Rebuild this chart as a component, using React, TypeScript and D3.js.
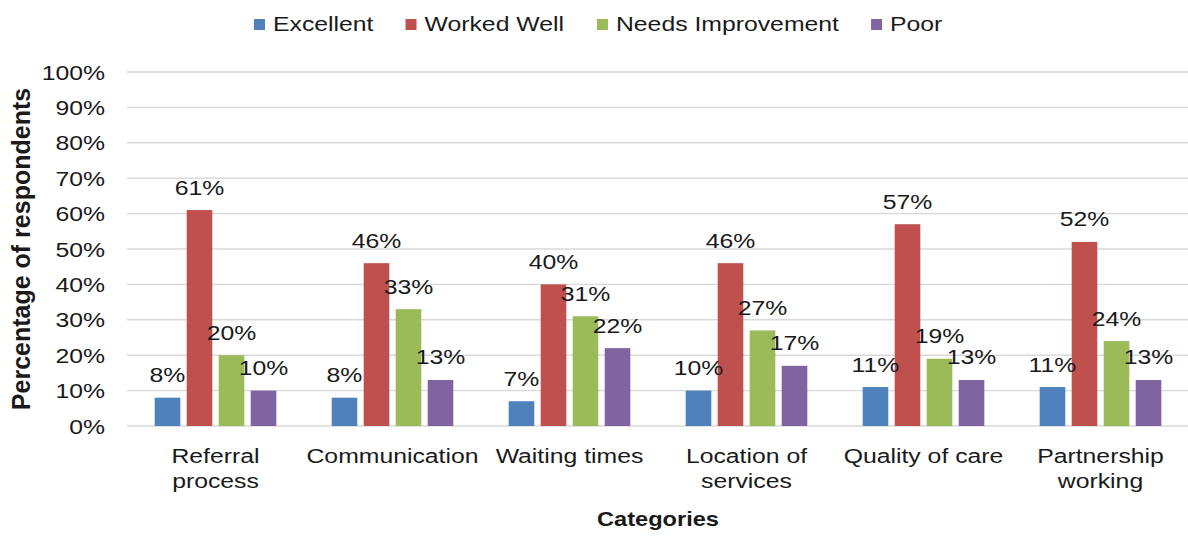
import React from "react";
import * as d3 from "d3";

const categories: string[][] = [
  ["Referral", "process"],
  ["Communication"],
  ["Waiting times"],
  ["Location of", "services"],
  ["Quality of care"],
  ["Partnership", "working"],
];
const seriesNames = ["Excellent", "Worked Well", "Needs Improvement", "Poor"];
const seriesColors = ["#4F81BD", "#C0504D", "#9BBB59", "#8064A2"];
const excellent = [8, 8, 7, 10, 11, 11];
const workedWell = [61, 46, 40, 46, 57, 52];
const needsImprovement = [20, 33, 31, 27, 19, 24];
const poor = [10, 13, 22, 17, 13, 13];
const yTicks = [0, 10, 20, 30, 40, 50, 60, 70, 80, 90, 100];

const W = 1188;
const H = 536;
const FONT = "'Liberation Sans', Arial, sans-serif";
const FS = 21;
const SX = 1.18; // horizontal stretch applied to text

const plot = { left: 127, right: 1189, top: 72, bottom: 426 };

// Text widths approximated from Arial advance widths (per 1000 em)
const ADV: Record<string, number> = {
  E: 667, x: 500, c: 500, e: 556, l: 222, n: 556, t: 278, W: 944, o: 556, r: 333,
  k: 500, d: 556, " ": 278, N: 722, s: 500, I: 278, m: 833, p: 556, v: 500, P: 667,
};
const textWidth = (s: string) =>
  s.split("").reduce((a, ch) => a + (ADV[ch] ?? 556), 0) / 1000 * FS * SX;

function T(props: {
  x: number; y: number; children: React.ReactNode; anchor?: string; bold?: boolean; size?: number;
}) {
  const { x, y, children, anchor = "start", bold = false, size = FS } = props;
  return (
    <text
      transform={`translate(${x},${y}) scale(${SX},1)`}
      textAnchor={anchor}
      fontFamily={FONT}
      fontSize={size}
      fontWeight={bold ? "bold" : "normal"}
      fill="#1a1a1a"
    >
      {children}
    </text>
  );
}

export default function App() {
  const series = [excellent, workedWell, needsImprovement, poor];
  const x0 = d3
    .scaleBand<number>()
    .domain(d3.range(categories.length))
    .range([plot.left, plot.right])
    .paddingInner(0)
    .paddingOuter(0);
  const x1 = d3
    .scaleBand<number>()
    .domain(d3.range(series.length))
    .range([0, x0.bandwidth()])
    .paddingInner(0.2)
    .paddingOuter(0.865);
  const y = d3.scaleLinear().domain([0, 100]).range([plot.bottom, plot.top]);

  // legend layout
  let lx = 254;
  const legendItems = seriesNames.map((name, i) => {
    const item = { name, color: seriesColors[i], x: lx };
    lx += 19 + textWidth(name) + 32;
    return item;
  });

  return (
    <svg width={W} height={H} style={{ position: "absolute", left: 0, top: 0, background: "#fff" }}>
      {/* gridlines */}
      {yTicks.map((t) => (
        <line
          key={t}
          x1={plot.left}
          x2={plot.right}
          y1={y(t)}
          y2={y(t)}
          stroke="#d9d9d9"
          strokeWidth={1.4}
        />
      ))}
      {/* y tick labels */}
      {yTicks.map((t) => (
        <T key={t} x={105} y={y(t) + 7.5} anchor="end">
          {t}%
        </T>
      ))}
      {/* bars */}
      {series.map((vals, si) =>
        vals.map((v, ci) => {
          const bx = (x0(ci) ?? 0) + (x1(si) ?? 0);
          return (
            <rect
              key={`${si}-${ci}`}
              x={bx}
              y={y(v)}
              width={x1.bandwidth()}
              height={y(0) - y(v)}
              fill={seriesColors[si]}
            />
          );
        })
      )}
      {/* value labels */}
      {series.map((vals, si) =>
        vals.map((v, ci) => {
          const cx = (x0(ci) ?? 0) + (x1(si) ?? 0) + x1.bandwidth() / 2;
          return (
            <T key={`l${si}-${ci}`} x={cx} y={y(v) - 15.5} anchor="middle">
              {v}%
            </T>
          );
        })
      )}
      {/* category labels */}
      {categories.map((lines, ci) => {
        const cx = (x0(ci) ?? 0) + x0.bandwidth() / 2;
        return lines.map((ln, li) => (
          <T key={`c${ci}-${li}`} x={cx} y={463 + li * 25} anchor="middle">
            {ln}
          </T>
        ));
      })}
      {/* axis titles */}
      <T x={(plot.left + plot.right) / 2} y={526} anchor="middle" bold size={20}>
        Categories
      </T>
      <text
        transform={`translate(30,${(plot.top + plot.bottom) / 2}) rotate(-90)`}
        textAnchor="middle"
        fontFamily={FONT}
        fontSize={25}
        fontWeight="bold"
        fill="#1a1a1a"
      >
        Percentage of respondents
      </text>
      {/* legend */}
      {legendItems.map((it) => (
        <g key={it.name}>
          <rect x={it.x} y={19} width={11} height={11} fill={it.color} />
          <T x={it.x + 19} y={31}>
            {it.name}
          </T>
        </g>
      ))}
    </svg>
  );
}
